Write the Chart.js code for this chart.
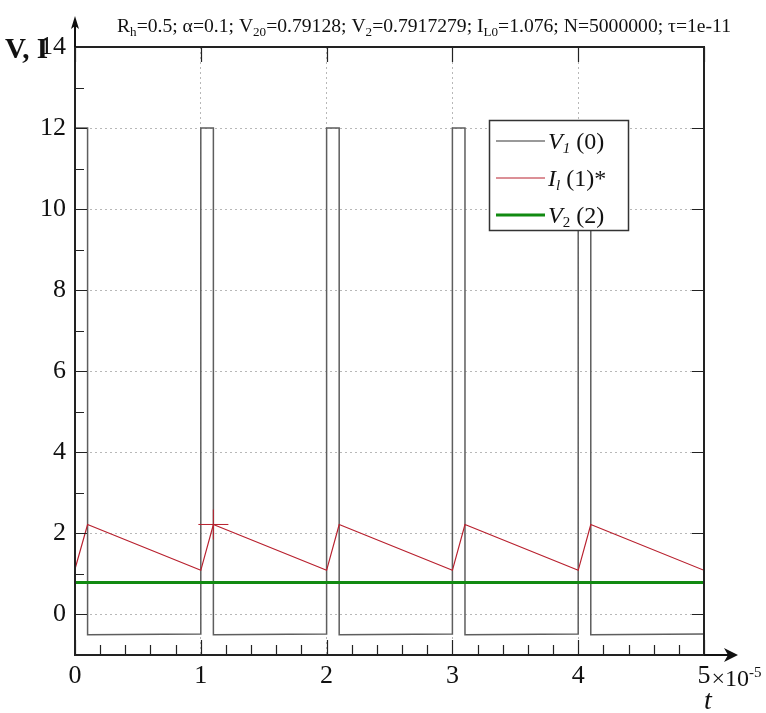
<!DOCTYPE html>
<html><head><meta charset="utf-8">
<script src="https://cdn.jsdelivr.net/npm/chart.js@4/dist/chart.umd.min.js"></script>
<style>html,body{margin:0;padding:0;background:#fff}#wrap{position:relative;width:766px;height:713px}canvas{display:block}</style>
</head><body><div id="wrap"><canvas id="c" width="766" height="713"></canvas></div>
<script>
// time in units of 1e-5 s
const tV1 = [0,0.1,0.1,1.0,1.0,1.1,1.1,2.0,2.0,2.1,2.1,3.0,3.0,3.1,3.1,4.0,4.0,4.1,4.1,5.0];
const V1  = [12,12,-0.5,-0.48,12,12,-0.5,-0.48,12,12,-0.5,-0.48,12,12,-0.5,-0.48,12,12,-0.5,-0.48];
const tIl = [0,0.1,1.0,1.1,2.0,2.1,3.0,3.1,4.0,4.1,5.0];
const Il  = [1.12,2.22,1.09,2.22,1.09,2.22,1.09,2.22,1.09,2.22,1.09];
const tV2 = [0,5];
const V2  = [0.79,0.79];
const markT = [1.1];
const markI = [2.22];
const xTicks = [0,1,2,3,4,5];
const xMinor = [0.2,0.4,0.6,0.8,1.2,1.4,1.6,1.8,2.2,2.4,2.6,2.8,3.2,3.4,3.6,3.8,4.2,4.4,4.6,4.8];
const yTicks = [0,2,4,6,8,10,12,14];
const yMinor = [-1,1,3,5,7,9,11,13];
const titleParts = [["R",0],["h",1],["=0.5; α=0.1; V",0],["20",1],["=0.79128; V",0],["2",1],["=0.7917279; I",0],["L0",1],["=1.076; N=5000000; τ=1e-11",0]];

const C_V1 = '#5e5e5e', C_I = '#b8202e', C_V2 = '#118a11';
const SERIF = '"Liberation Serif", "Times New Roman", serif';
const pts = (xs, ys) => xs.map((x,i)=>({x:x, y:ys[i]}));

const decor = {
  id:'decor',
  afterDraw(chart){
    const ctx = chart.ctx, a = chart.chartArea;
    const xs = chart.scales.x, ys = chart.scales.y;
    ctx.save();
    // frame
    ctx.strokeStyle = '#222'; ctx.lineWidth = 2;
    ctx.strokeRect(a.left, a.top, a.right-a.left, a.bottom-a.top);
    ctx.lineWidth = 1.2; ctx.strokeStyle='#222';
    ctx.beginPath();
    xTicks.forEach(v=>{ const p = Math.round(xs.getPixelForValue(v))+0.5;
      ctx.moveTo(p,a.bottom); ctx.lineTo(p,a.bottom-15);
      ctx.moveTo(p,a.top); ctx.lineTo(p,a.top+15); });
    xMinor.forEach(v=>{ const p = Math.round(xs.getPixelForValue(v))+0.5;
      ctx.moveTo(p,a.bottom); ctx.lineTo(p,a.bottom-10); });
    yTicks.forEach(v=>{ const p = Math.round(ys.getPixelForValue(v))+0.5;
      ctx.moveTo(a.left,p); ctx.lineTo(a.left+12,p);
      ctx.moveTo(a.right,p); ctx.lineTo(a.right-12,p); });
    yMinor.forEach(v=>{ const p = Math.round(ys.getPixelForValue(v))+0.5;
      ctx.moveTo(a.left,p); ctx.lineTo(a.left+9,p); });
    ctx.stroke();
    // arrows
    ctx.lineWidth = 2; ctx.fillStyle='#111'; ctx.strokeStyle='#111';
    ctx.beginPath(); ctx.moveTo(a.left, a.top); ctx.lineTo(a.left, 26); ctx.stroke();
    ctx.beginPath(); ctx.moveTo(a.left,16); ctx.lineTo(a.left-4,29); ctx.lineTo(a.left,26); ctx.lineTo(a.left+4,29); ctx.closePath(); ctx.fill();
    ctx.beginPath(); ctx.moveTo(a.right, a.bottom); ctx.lineTo(728, a.bottom); ctx.stroke();
    ctx.beginPath(); ctx.moveTo(738,a.bottom); ctx.lineTo(724,a.bottom-7); ctx.lineTo(728,a.bottom); ctx.lineTo(724,a.bottom+7); ctx.closePath(); ctx.fill();
    // title
    ctx.fillStyle = '#111'; ctx.textBaseline='alphabetic'; ctx.textAlign='left';
    let w = 0;
    titleParts.forEach(([s,sub])=>{ ctx.font = (sub? '12px ':'18px ')+SERIF; w += ctx.measureText(s).width; });
    const sx = 614 / w;
    ctx.save(); ctx.translate(117, 32); ctx.scale(sx,1);
    let x = 0;
    titleParts.forEach(([s,sub])=>{ ctx.font = (sub? '12px ':'18px ')+SERIF; ctx.fillText(s, x, sub?4:0); x += ctx.measureText(s).width; });
    ctx.restore();
    // y title
    ctx.font = 'bold 29px '+SERIF; ctx.fillText('V, I', 5, 58);
    // x title and exponent
    const p5 = xs.getPixelForValue(5);
    ctx.font = '26px '+SERIF; const w5 = ctx.measureText('5').width;
    const xb = p5 + w5/2 + 1, by = 686;
    ctx.font = '24px '+SERIF;
    ctx.fillText('×10', xb, by); const wx = ctx.measureText('×10').width;
    ctx.font = '15px '+SERIF; ctx.fillText('-5', xb+wx, by-9);
    ctx.font = 'italic 28px '+SERIF; ctx.textAlign='center'; ctx.fillText('t', p5+4, 709);
    // legend
    ctx.textAlign='left';
    const L=489.5, T=120.5, W=139, H=110;
    ctx.fillStyle='#fff'; ctx.fillRect(L,T,W,H);
    ctx.strokeStyle='#333'; ctx.lineWidth=1.5; ctx.strokeRect(L,T,W,H);
    const rows = [
      {c:'#777', lw:1.5, y:141, parts:[['V','i24'],['1','i15'],[' (0)','n24']]},
      {c:C_I, lw:1, y:178, parts:[['I','i24'],['l','i15'],[' (1)*','n24']]},
      {c:C_V2, lw:3, y:215, parts:[['V','i24'],['2','n15'],[' (2)','n24']]}
    ];
    rows.forEach(r=>{
      ctx.strokeStyle=r.c; ctx.lineWidth=r.lw; ctx.beginPath(); ctx.moveTo(496,r.y); ctx.lineTo(545,r.y); ctx.stroke();
      let tx = 548; ctx.fillStyle='#111';
      r.parts.forEach(([s,f])=>{
        const it = f[0]==='i', sz = parseInt(f.slice(1));
        ctx.font = (it?'italic ':'')+sz+'px '+SERIF;
        ctx.fillText(s, tx, r.y+8 + (sz<20?4:0));
        tx += ctx.measureText(s).width;
      });
    });
    ctx.restore();
  }
};

new Chart(document.getElementById('c'), {
  type:'line',
  data:{ datasets:[
    {label:'marker', type:'scatter', data:pts(markT,markI), pointStyle:'cross', pointRadius:15, borderColor:C_I, borderWidth:1, showLine:false},
    {label:'V2 (2)', data:pts(tV2,V2), borderColor:C_V2, borderWidth:3, pointRadius:0, fill:false},
    {label:'I_l (1)*', data:pts(tIl,Il), borderColor:C_I, borderWidth:1.2, pointRadius:0, fill:false},
    {label:'V1 (0)', data:pts(tV1,V1), borderColor:C_V1, borderWidth:1.5, pointRadius:0, fill:false}
  ]},
  options:{
    responsive:false, animation:false, events:[], devicePixelRatio:1,
    layout:{padding:{top:47, right:62, left:0, bottom:0}},
    plugins:{legend:{display:false}, tooltip:{enabled:false}, title:{display:false}},
    scales:{
      x:{type:'linear', min:0, max:5,
        afterBuildTicks:s=>{ s.ticks = xTicks.map(v=>({value:v})); },
        afterFit:s=>{ s.height = 58; },
        grid:{color:'#b8b8b8', lineWidth:1, drawTicks:false},
        border:{display:false, dash:[2,3]},
        ticks:{color:'#111', font:{family:SERIF, size:26}, padding:6, maxRotation:0, autoSkip:false}
      },
      y:{type:'linear', min:-1, max:14,
        afterBuildTicks:s=>{ s.ticks = yTicks.map(v=>({value:v})); },
        afterFit:s=>{ s.width = 75; },
        grid:{color:'#b8b8b8', lineWidth:1, drawTicks:false},
        border:{display:false, dash:[2,3]},
        ticks:{color:'#111', font:{family:SERIF, size:26}, padding:9, autoSkip:false}
      }
    }
  },
  plugins:[decor]
});
</script></body></html>
